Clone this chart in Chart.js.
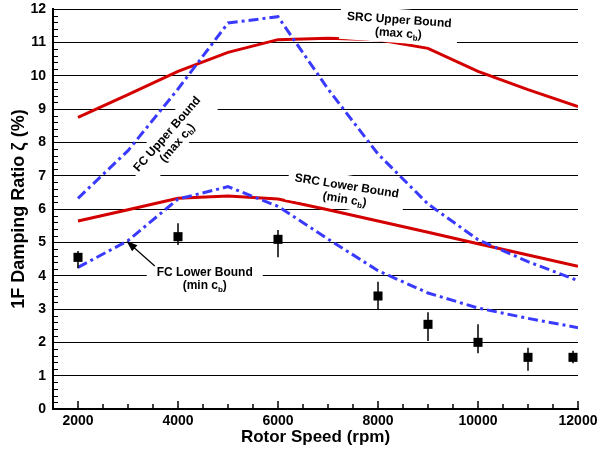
<!DOCTYPE html>
<html>
<head>
<meta charset="utf-8">
<script src="https://cdn.jsdelivr.net/npm/chart.js@4.4.1/dist/chart.umd.min.js"></script>
<style>
  html, body { margin: 0; padding: 0; background: #fff; }
</style>
</head>
<body>
<canvas id="damping" width="600" height="450"></canvas>
<script>
// rotor speeds where the bound curves are evaluated (rpm)
const speeds   = [2000, 3000, 4000, 5000, 6000, 7000, 8000, 9000, 10000, 11000, 12000];
const srcUpper = [8.75, 9.43, 10.13, 10.70, 11.08, 11.12, 11.08, 10.82, 10.13, 9.58, 9.07];
const srcLower = [5.64, 5.98, 6.32, 6.39, 6.30, 5.98, 5.64, 5.30, 4.96, 4.62, 4.28];
const fcUpper  = [6.32, 7.75, 9.60, 11.58, 11.77, 9.60, 7.65, 6.15, 5.08, 4.42, 3.85];
const fcLower  = [4.25, 5.05, 6.30, 6.67, 6.08, 5.10, 4.15, 3.48, 3.03, 2.72, 2.44];

// measured damping, with the low/high end of each scatter bar
const testSpeeds  = [2000, 4000, 6000, 8000, 9000, 10000, 11000, 11900];
const testDamping = [4.55, 5.17, 5.09, 3.39, 2.54, 2.00, 1.55, 1.55];
const testLow     = [4.22, 4.92, 4.55, 2.99, 2.04, 1.67, 1.15, 1.37];
const testHigh    = [4.74, 5.57, 5.37, 3.82, 2.90, 2.54, 1.84, 1.75];

const xTicks = [2000, 4000, 6000, 8000, 10000, 12000];

const RED = '#d40000';
const BLUE = '#3a3aff';
const FONT = "'Liberation Sans', Arial, Helvetica, sans-serif";

const pairs = (xs, ys) => xs.map((x, i) => ({ x: x, y: ys[i] }));

// curve labels: centre in data units, rotation in degrees, white box size
const notes = [
  { title: 'SRC Upper Bound', kind: 'max', x: 8418, y: 11.49, angle: 4,   w: 118, h: 34 },
  { title: 'SRC Lower Bound', kind: 'min', x: 7357, y: 6.51,  angle: 9,   w: 118, h: 34 },
  { title: 'FC Upper Bound',  kind: 'max', x: 3875, y: 8.13,  angle: -49, w: 104, h: 32 },
  { title: 'FC Lower Bound',  kind: 'min', x: 4535, y: 3.93,  angle: 0,   w: 116, h: 30 }
];
const arrowFrom = { x: 3535, y: 4.29 };
const arrowTo   = { x: 2970, y: 5.04 };

function drawNote(ctx, n, px, py) {
  ctx.save();
  ctx.translate(px, py);
  ctx.rotate(n.angle * Math.PI / 180);
  ctx.fillStyle = '#fff';
  ctx.fillRect(-n.w / 2, -n.h / 2, n.w, n.h);
  ctx.fillStyle = '#000';
  ctx.textBaseline = 'alphabetic';
  ctx.textAlign = 'center';
  ctx.font = 'bold 12px ' + FONT;
  ctx.fillText(n.title, 0, -2.5);
  // second line: "(max c" + subscript b + ")"
  const a = '(' + n.kind + ' c', c = ')';
  const wa = ctx.measureText(a).width, wc = ctx.measureText(c).width;
  ctx.font = 'bold 8px ' + FONT;
  const wb = ctx.measureText('b').width;
  let x0 = -(wa + wb + wc) / 2;
  ctx.textAlign = 'left';
  ctx.font = 'bold 12px ' + FONT;
  ctx.fillText(a, x0, 11);
  ctx.font = 'bold 8px ' + FONT;
  ctx.fillText('b', x0 + wa, 13.5);
  ctx.font = 'bold 12px ' + FONT;
  ctx.fillText(c, x0 + wa + wb, 11);
  ctx.restore();
}

// inward major/minor tick marks on both axes
const tickMarks = {
  id: 'tickMarks',
  beforeDatasetsDraw(chart) {
    const { ctx, chartArea: a, scales: { x, y } } = chart;
    ctx.save();
    ctx.strokeStyle = '#000';
    ctx.lineWidth = 1.5;
    ctx.beginPath();
    for (let v = 2000; v <= x.max; v += 500) {
      const px = x.getPixelForValue(v);
      const len = xTicks.includes(v) ? 8 : 5;
      ctx.moveTo(px, a.bottom);
      ctx.lineTo(px, a.bottom - len);
    }
    ctx.stroke();
    ctx.lineWidth = 1;
    ctx.beginPath();
    for (let i = 1; i < 60; i++) {
      if (i % 5 === 0) continue;
      const py = Math.round(y.getPixelForValue(i * 0.2)) + 0.5;
      ctx.moveTo(a.left, py);
      ctx.lineTo(a.left + 5, py);
    }
    ctx.stroke();
    ctx.restore();
  },
  afterDatasetsDraw(chart) {
    const { ctx, scales: { x, y } } = chart;
    ctx.save();
    // scatter bars on the test points
    ctx.strokeStyle = '#000';
    ctx.lineWidth = 1.5;
    ctx.beginPath();
    testSpeeds.forEach((s, i) => {
      const px = x.getPixelForValue(s);
      ctx.moveTo(px, y.getPixelForValue(testLow[i]));
      ctx.lineTo(px, y.getPixelForValue(testHigh[i]));
    });
    ctx.stroke();
    ctx.restore();

    notes.forEach(n => drawNote(ctx, n, x.getPixelForValue(n.x), y.getPixelForValue(n.y)));

    // pointer from the FC lower label to its curve
    const x1 = x.getPixelForValue(arrowFrom.x), y1 = y.getPixelForValue(arrowFrom.y);
    const x2 = x.getPixelForValue(arrowTo.x), y2 = y.getPixelForValue(arrowTo.y);
    const ang = Math.atan2(y2 - y1, x2 - x1);
    ctx.save();
    ctx.strokeStyle = '#000';
    ctx.fillStyle = '#000';
    ctx.lineWidth = 1.2;
    ctx.beginPath();
    ctx.moveTo(x1, y1);
    ctx.lineTo(x2 - 8 * Math.cos(ang), y2 - 8 * Math.sin(ang));
    ctx.stroke();
    ctx.beginPath();
    ctx.moveTo(x2, y2);
    ctx.lineTo(x2 - 11 * Math.cos(ang) + 4 * Math.sin(ang), y2 - 11 * Math.sin(ang) - 4 * Math.cos(ang));
    ctx.lineTo(x2 - 11 * Math.cos(ang) - 4 * Math.sin(ang), y2 - 11 * Math.sin(ang) + 4 * Math.cos(ang));
    ctx.closePath();
    ctx.fill();
    ctx.restore();
  }
};

const boundLine = (data, color, dashed) => ({
  type: 'line',
  data: data,
  borderColor: color,
  borderWidth: 3,
  borderDash: dashed ? [10, 4, 3, 4] : [],
  pointRadius: 0,
  tension: 0,
  fill: false
});

// fixed axis boxes so the plot area sits where it should
const fixBox = size => s => {
  if (s.isHorizontal()) s.height = size; else s.width = size;
  s.paddingTop = 0; s.paddingBottom = 0;
  s.paddingLeft = 0; s.paddingRight = 0;
};

new Chart(document.getElementById('damping'), {
  type: 'scatter',
  data: {
    datasets: [
      {
        label: 'Test',
        data: pairs(testSpeeds, testDamping),
        pointStyle: 'rect',
        pointRadius: 6.4,
        backgroundColor: '#000',
        borderWidth: 0,
        showLine: false
      },
      boundLine(pairs(speeds, fcUpper), BLUE, true),
      boundLine(pairs(speeds, fcLower), BLUE, true),
      boundLine(pairs(speeds, srcUpper), RED, false),
      boundLine(pairs(speeds, srcLower), RED, false)
    ]
  },
  options: {
    responsive: false,
    animation: false,
    devicePixelRatio: 1,
    layout: { padding: { left: 0, right: 22, top: 9, bottom: 0 } },
    plugins: { legend: { display: false }, tooltip: { enabled: false } },
    scales: {
      x: {
        type: 'linear',
        min: 1500,
        max: 12000,
        afterBuildTicks: s => { s.ticks = xTicks.map(v => ({ value: v })); },
        afterFit: fixBox(41),
        grid: { display: false, drawTicks: false },
        border: { display: true, color: '#000', width: 2 },
        ticks: {
          color: '#000',
          font: { family: FONT, size: 14, weight: 'bold' },
          padding: 4,
          maxRotation: 0,
          autoSkip: false,
          callback: v => String(v)
        },
        title: {
          display: true,
          text: 'Rotor Speed (rpm)',
          color: '#000',
          font: { family: FONT, size: 17, weight: 'bold' },
          padding: { top: 0, bottom: 2 }
        }
      },
      y: {
        min: 0,
        max: 12,
        afterFit: fixBox(53),
        grid: { color: '#000', lineWidth: 1, drawTicks: false },
        border: { display: true, color: '#000', width: 2 },
        ticks: {
          stepSize: 1,
          color: '#000',
          font: { family: FONT, size: 14, weight: 'bold' },
          padding: 7
        },
        title: {
          display: true,
          text: '1F Damping Ratio ζ (%)',
          color: '#000',
          font: { family: FONT, size: 18, weight: 'bold' },
          padding: { top: 8, bottom: 0 }
        }
      }
    }
  },
  plugins: [tickMarks]
});
</script>
</body>
</html>
